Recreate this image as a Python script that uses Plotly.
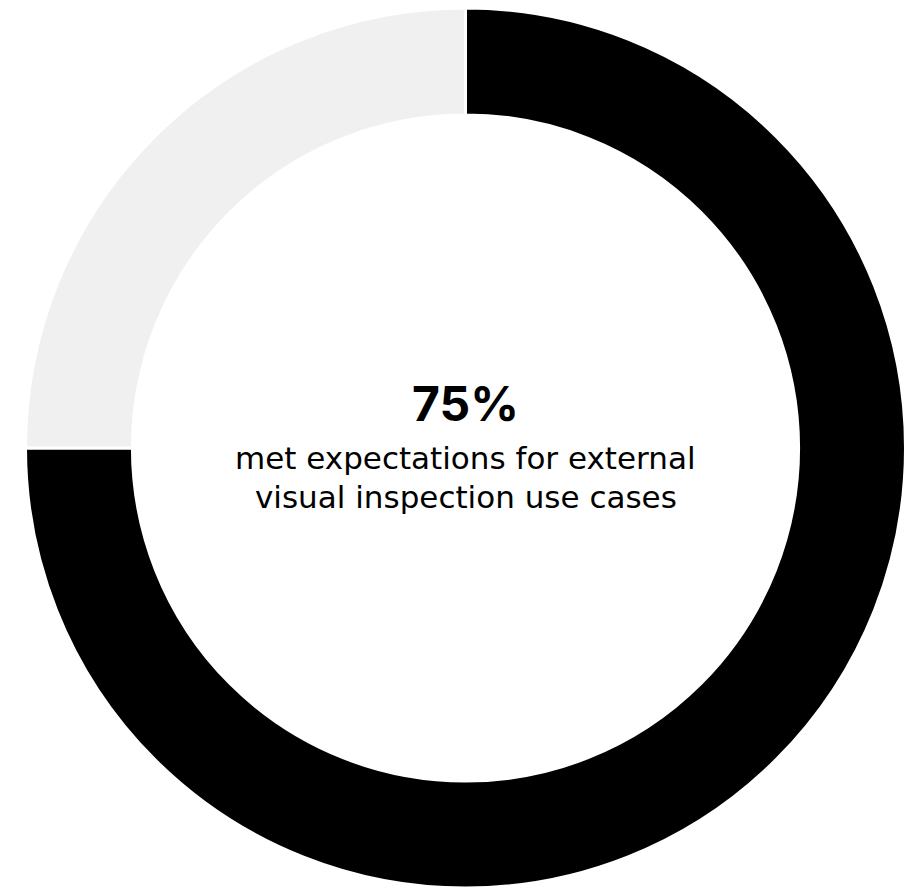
import plotly.graph_objects as go

labels = ["Met expectations", "Did not meet expectations"]
values = [75, 25]
colors = ["#000000", "#f0f0f0"]
center_value = "75%"
center_line1 = "met expectations for external"
center_line2 = "visual inspection use cases"

W, H = 918, 888
CX, CY, R = 457.5, 440.0, 440.0  # figure-pixel centre and half-size of the pie domain

fig = go.Figure(go.Pie(
    labels=labels,
    values=values,
    hole=0.757,
    sort=False,
    direction="clockwise",
    rotation=0,
    marker=dict(colors=colors, line=dict(color="#ffffff", width=3)),
    textinfo="none",
    hoverinfo="label+percent",
    showlegend=False,
    domain=dict(x=[(CX - R) / W, (CX + R) / W], y=[1 - (CY + R) / H, 1 - (CY - R) / H]),
))

def ypaper(py):
    return 1 - py / H

fig.add_annotation(text=f"<b>{center_value}</b>", x=CX / W, y=ypaper(395.5), xref="paper", yref="paper",
                   showarrow=False, font=dict(family="Inter, Lato, sans-serif", size=48, color="#000000"),
                   xanchor="center", yanchor="middle")
fig.add_annotation(text=center_line1, x=CX / W, y=ypaper(450.5), xref="paper", yref="paper",
                   showarrow=False, font=dict(family="DejaVu Sans, sans-serif", size=31, color="#000000"),
                   xanchor="center", yanchor="middle")
fig.add_annotation(text=center_line2, x=CX / W, y=ypaper(489), xref="paper", yref="paper",
                   showarrow=False, font=dict(family="DejaVu Sans, sans-serif", size=31, color="#000000"),
                   xanchor="center", yanchor="middle")

fig.update_layout(
    width=W, height=H,
    margin=dict(l=0, r=0, t=0, b=0),
    paper_bgcolor="#ffffff",
    plot_bgcolor="#ffffff",
)

fig.write_html("out.html")
